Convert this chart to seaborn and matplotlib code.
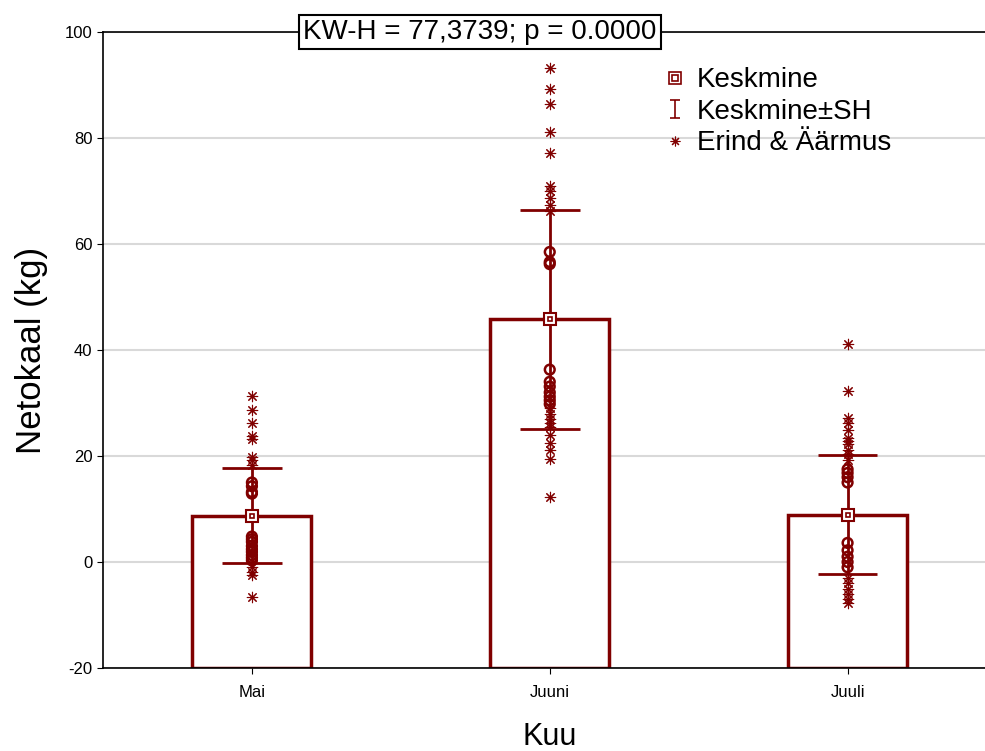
import numpy as np
import pandas as pd
import matplotlib
matplotlib.use("Agg")
import matplotlib.pyplot as plt
import seaborn as sns
from matplotlib.lines import Line2D
from matplotlib.path import Path

# andmed (loetud jooniselt)
kuud = ["Mai", "Juuni", "Juuli"]
keskmine = [8.7, 45.8, 8.9]
sh_alumine = [-0.2, 25.1, -2.3]
sh_ulemine = [17.8, 66.4, 20.2]

# ringid (jäävad SH vahemikku) ja tärnid (erindid & äärmused)
mai_ringid = [15.0, 14.3, 13.2, 12.9, 4.8, 4.3, 3.8, 3.0, 2.4, 1.9, 1.3, 0.8, 0.3]
mai_tarnid = [31.4, 28.7, 26.3, 23.8, 23.3, 19.9, 19.2, 18.3, -1.0, -1.8, -2.4, -6.6]
juuni_ringid = [58.5, 56.6, 56.2, 36.3, 34.0, 33.1, 32.0, 31.2, 30.5, 29.8]
juuni_tarnid = [93.3, 89.3, 86.5, 81.2, 77.2, 71.0, 70.0, 68.7, 67.3, 66.2,
                29.0, 28.0, 27.0, 26.2, 25.5, 24.0, 22.5, 21.2, 19.5, 12.3]
juuli_ringid = [17.5, 16.8, 16.0, 15.0, 3.6, 2.2, 1.0, 0.0, -1.0]
juuli_tarnid = [41.1, 32.3, 27.2, 26.2, 24.9, 23.4, 22.8, 22.2, 21.2, 20.4, 19.3,
                -3.0, -4.0, -5.0, -6.0, -7.0, -7.8]

y_min, y_max = -20, 100
punane = "#800000"

plt.rcParams['font.family'] = ['Liberation Sans', 'DejaVu Sans']
plt.rcParams['axes.unicode_minus'] = False

df_bar = pd.DataFrame({"Kuu": kuud, "Keskmine": keskmine})
df_bar["korgus"] = df_bar["Keskmine"] - y_min

ringid = pd.DataFrame({
    "Kuu": ["Mai"] * len(mai_ringid) + ["Juuni"] * len(juuni_ringid) + ["Juuli"] * len(juuli_ringid),
    "Netokaal": mai_ringid + juuni_ringid + juuli_ringid,
})
tarnid = pd.DataFrame({
    "Kuu": ["Mai"] * len(mai_tarnid) + ["Juuni"] * len(juuni_tarnid) + ["Juuli"] * len(juuli_tarnid),
    "Netokaal": mai_tarnid + juuni_tarnid + juuli_tarnid,
})

fig = plt.figure(figsize=(9.85, 7.51), dpi=100)
ax = fig.add_axes([103 / 985, 83 / 751, 893.5 / 985, 636 / 751])

sns.barplot(data=df_bar, x="Kuu", y="korgus", order=kuud, bottom=y_min, width=0.4,
            color="white", edgecolor=punane, linewidth=2.5, ax=ax, zorder=2)

# SH vahemik
x = np.arange(len(kuud))
ax.vlines(x, sh_alumine, sh_ulemine, color=punane, lw=2, zorder=3)
ax.hlines(sh_alumine, x - 0.1, x + 0.1, color=punane, lw=2, zorder=3)
ax.hlines(sh_ulemine, x - 0.1, x + 0.1, color=punane, lw=2, zorder=3)

sns.stripplot(data=ringid, x="Kuu", y="Netokaal", order=kuud, jitter=False,
              marker="o", s=7, facecolor="none", edgecolor=punane, linewidth=1.8,
              color=punane, ax=ax, zorder=4)
sns.stripplot(data=tarnid, x="Kuu", y="Netokaal", order=kuud, jitter=False,
              marker=(8, 2, 0), s=7.5, linewidth=0.8, color=punane, edgecolor=punane,
              ax=ax, zorder=4)

# keskmise marker
ax.plot(x, keskmine, ls="none", marker="s", ms=8, mfc="white", mec=punane, mew=1.5, zorder=5)
ax.plot(x, keskmine, ls="none", marker="s", ms=3.5, mfc="none", mec=punane, mew=1.2, zorder=6)

ax.set_xlim(-0.5, 2.5)
ax.set_ylim(y_min, y_max)
ax.set_yticks(np.arange(-20, 101, 20))
ax.yaxis.grid(True, color="#d9d9d9", lw=1.5, zorder=0)
ax.set_axisbelow(True)
for s in ["left", "bottom", "top"]:
    ax.spines[s].set_color("black")
    ax.spines[s].set_linewidth(1.2)
ax.spines["right"].set_visible(False)
ax.tick_params(axis="both", labelsize=12, length=4, color="black", direction="out")
ax.tick_params(axis="x", pad=8)
ax.set_xlabel("Kuu", fontsize=22, labelpad=16)
ax.set_ylabel("Netokaal (kg)", fontsize=25, labelpad=12)

ax.text(0.422, 1.0, "KW-H = 77,3739; p = 0.0000", transform=ax.transAxes,
        ha="center", va="center", fontsize=20, zorder=10,
        bbox=dict(boxstyle="square,pad=0.15", fc="white", ec="black", lw=1.5))

# legendi "I" märk
i_tala = Path([(-0.5, 1), (0.5, 1), (0, 1), (0, -1), (-0.5, -1), (0.5, -1)],
              [Path.MOVETO, Path.LINETO, Path.MOVETO, Path.LINETO, Path.MOVETO, Path.LINETO])
h1 = (Line2D([], [], ls="none", marker="s", ms=9, mfc="white", mec=punane, mew=1.2),
      Line2D([], [], ls="none", marker="s", ms=4, mfc="none", mec=punane, mew=1.2))
h2 = Line2D([], [], ls="none", marker=i_tala, ms=13, mfc="none", mec=punane, mew=1.2)
h3 = Line2D([], [], ls="none", marker=(8, 2, 0), ms=7, color=punane, mew=0.8)
ax.legend([h1, h2, h3], ["Keskmine", "Keskmine\u00b1SH", "Erind & Äärmus"],
          loc="upper left", bbox_to_anchor=(0.615, 0.962), frameon=False, fontsize=20,
          handlelength=0.8, handletextpad=0.4, labelspacing=0.2, borderaxespad=0)

fig.savefig("out.png", dpi=100)
